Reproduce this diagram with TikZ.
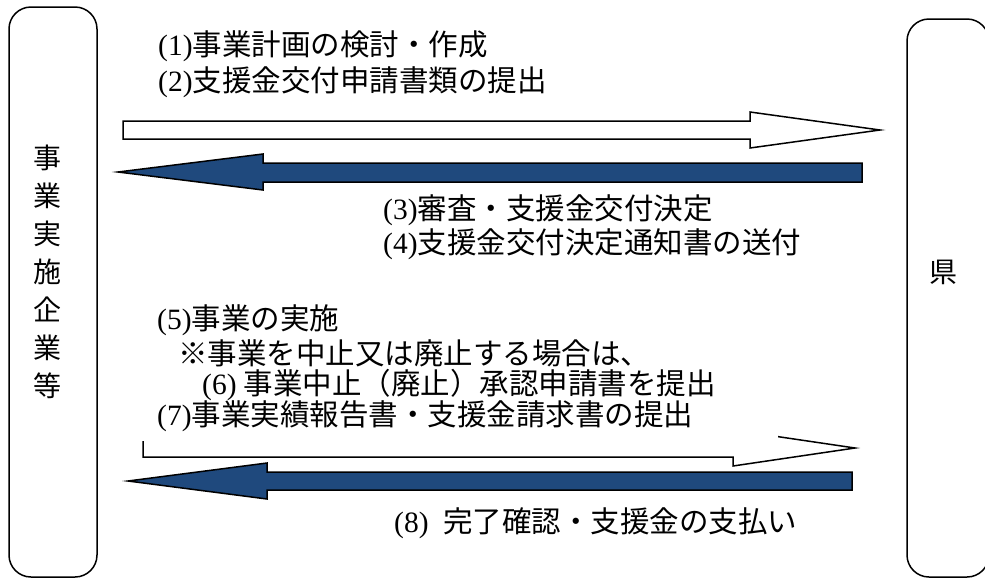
\documentclass[tikz,border=0pt]{standalone}
\usepackage{fontspec}
\setmainfont{Liberation Serif}
\newfontfamily\jpfont{Noto Sans CJK JP}
\usepackage{xcolor}
\usepackage{tikz}
\definecolor{arrowblue}{HTML}{1F497D}
\tikzset{
  sidebox/.style={draw, line width=1.5pt, rounded corners=22pt, inner sep=0pt},
  hollowarrow/.style={draw, line width=1.5pt, fill=white},
  solidarrow/.style={draw, line width=1.5pt, fill=arrowblue},
  stepnote/.style={anchor=west, inner sep=0pt, font=\fontsize{29.5}{34}\selectfont}
}
\begin{document}
\begin{tikzpicture}[x=1pt, y=-1pt]
      \useasboundingbox (0,0) rectangle (985,579);
      \node[sidebox, minimum width=88pt, minimum height=570pt] (firm) at (53,292) {};
      \node[sidebox, minimum width=82pt, minimum height=558pt] (pref) at (948,298) {};
      \node[align=center, inner sep=0pt, font=\fontsize{28}{38}\selectfont\jpfont] (firmname) at (47,272) {事\\業\\実\\施\\企\\業\\等};
      \node[inner sep=0pt, font=\fontsize{28}{34}\selectfont\jpfont] (prefname) at (943,272) {県};
      \draw[hollowarrow] (123,121) -- (750,121) -- (750,112) -- (880,130) -- (750,148) -- (750,139) -- (123,139) -- cycle;
      \draw[solidarrow] (118,172) -- (263,154) -- (263,163) -- (862,163) -- (862,182) -- (263,182) -- (263,190) -- cycle;
      \draw[hollowarrow] (143,439) -- (733,439) -- (733,430) -- (855,448) -- (733,466) -- (733,457) -- (143,457) -- cycle;
      \fill[white] (139,398) rectangle (778,441);
      \draw[solidarrow] (128,481) -- (267,463) -- (267,472) -- (852,472) -- (852,490) -- (267,490) -- (267,499) -- cycle;
      \node[stepnote] (plan) at (158,46) {(1){\jpfont 事業計画の検討・作成}};
      \node[stepnote] (apply) at (158,82) {(2){\jpfont 支援金交付申請書類の提出}};
      \node[stepnote] (review) at (383,210) {(3){\jpfont 審査・支援金交付決定}};
      \node[stepnote] (notice) at (383,244) {(4){\jpfont 支援金交付決定通知書の送付}};
      \node[stepnote] (run) at (157,320) {(5){\jpfont 事業の実施}};
      \node[stepnote] (caution) at (178,353) {\jpfont ※事業を中止又は廃止する場合は、};
      \node[stepnote] (abort) at (202,385) {(6) {\jpfont 事業中止（廃止）承認申請書を提出}};
      \node[stepnote] (report) at (157,416) {(7){\jpfont 事業実績報告書・支援金請求書の提出}};
      \node[stepnote] (pay) at (394,523) {(8)\ \ {\jpfont 完了確認・支援金の支払い}};
\end{tikzpicture}
\end{document}
